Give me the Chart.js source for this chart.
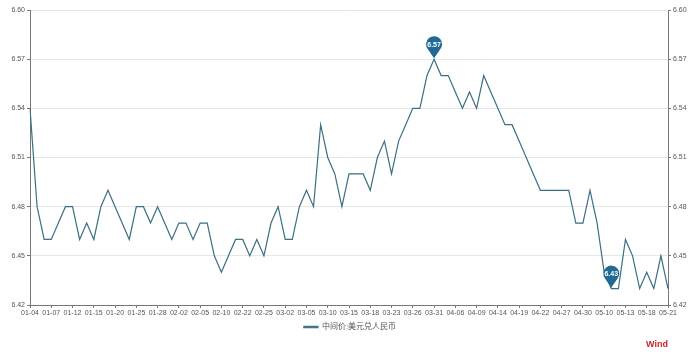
<!DOCTYPE html>
<html>
<head>
<meta charset="utf-8">
<script src="https://cdn.jsdelivr.net/npm/chart.js@4.4.1/dist/chart.umd.min.js"></script>
<style>
html,body{margin:0;padding:0;background:#fff;}
#wrap{width:700px;height:356px;position:relative;}
</style>
</head>
<body>
<div id="wrap"><canvas id="c" width="700" height="356"></canvas></div>
<script>
const dates = ["01-04","01-05","01-06","01-07","01-08","01-11","01-12","01-13","01-14","01-15","01-18","01-19","01-20","01-21","01-22","01-25","01-26","01-27","01-28","01-29",
"02-01","02-02","02-03","02-04","02-05","02-08","02-09","02-10","02-18","02-19","02-22","02-23","02-24","02-25","02-26",
"03-01","03-02","03-03","03-04","03-05","03-08","03-09","03-10","03-11","03-12","03-15","03-16","03-17","03-18","03-19","03-22","03-23","03-24","03-25","03-26","03-29","03-30","03-31",
"04-01","04-02","04-06","04-07","04-08","04-09","04-12","04-13","04-14","04-15","04-16","04-19","04-20","04-21","04-22","04-23","04-26","04-27","04-28","04-29","04-30",
"05-06","05-07","05-10","05-11","05-12","05-13","05-14","05-17","05-18","05-19","05-20","05-21"];

const rate = [6.54,6.48,6.46,6.46,6.47,6.48,6.48,6.46,6.47,6.46,6.48,6.49,6.48,6.47,6.46,6.48,6.48,6.47,6.48,6.47,
6.46,6.47,6.47,6.46,6.47,6.47,6.45,6.44,6.45,6.46,6.46,6.45,6.46,6.45,6.47,
6.48,6.46,6.46,6.48,6.49,6.48,6.53,6.51,6.50,6.48,6.50,6.50,6.50,6.49,6.51,6.52,6.50,6.52,6.53,6.54,6.54,6.56,6.57,
6.56,6.56,6.55,6.54,6.55,6.54,6.56,6.55,6.54,6.53,6.53,6.52,6.51,6.50,6.49,6.49,6.49,6.49,6.49,6.47,6.47,
6.49,6.47,6.44,6.43,6.43,6.46,6.45,6.43,6.44,6.43,6.45,6.43];

const seriesName = "中间价:美元兑人民币";
const yTicks = [6.42,6.45,6.48,6.51,6.54,6.57,6.60];

const FONT = "'Liberation Sans', Arial, 'Noto Sans CJK SC', sans-serif";
const LINE = "#3a6f84";
const PIN = "#1f6b96";

const pinPlugin = {
  id: 'pins',
  afterDatasetsDraw(chart) {
    const ctx = chart.ctx;
    const meta = chart.getDatasetMeta(0);
    const data = chart.data.datasets[0].data;
    const maxV = Math.max(...data), minV = Math.min(...data);
    const idxs = [data.indexOf(maxV), data.indexOf(minV)];
    idxs.forEach(i => {
      const p = meta.data[i];
      const x = p.x, y = p.y;
      const r = 8, cy = y - 15;
      ctx.save();
      ctx.fillStyle = PIN;
      ctx.beginPath();
      ctx.arc(x, cy, r, Math.PI * 0.78, Math.PI * 2.22, false);
      ctx.lineTo(x, y - 1);
      ctx.closePath();
      ctx.fill();
      ctx.fillStyle = "#fff";
      ctx.font = "bold 7px " + FONT;
      ctx.textAlign = "center";
      ctx.textBaseline = "middle";
      ctx.fillText(data[i].toFixed(2), x, cy + 0.5);
      ctx.restore();
    });
  },
  afterDraw(chart) {
    const ctx = chart.ctx;
    ctx.save();
    ctx.fillStyle = "#c9252b";
    ctx.font = "bold 9px " + FONT;
    ctx.textAlign = "right";
    ctx.textBaseline = "alphabetic";
    ctx.fillText("Wind", 668, 347);
    ctx.restore();
  }
};

const yCommon = {
  type: 'linear',
  min: 6.42, max: 6.60,
  afterBuildTicks(scale) { scale.ticks = yTicks.map(v => ({value: v})); },
  ticks: {
    color: '#555', font: {size: 7, family: FONT}, padding: 2,
    callback: v => Number(v).toFixed(2)
  },
  border: {display: true, color: '#777', width: 1}
};

new Chart(document.getElementById('c'), {
  type: 'line',
  data: {
    labels: dates,
    datasets: [{
      label: seriesName,
      data: rate,
      borderColor: LINE,
      backgroundColor: LINE,
      borderWidth: 1.2,
      pointRadius: 0,
      tension: 0,
      yAxisID: 'y'
    }]
  },
  options: {
    responsive: false,
    animation: false,
    devicePixelRatio: 1,
    layout: {padding: {top: 10, left: 0, right: 0, bottom: 15}},
    plugins: {
      legend: {
        display: true, position: 'bottom',
        labels: {color: '#555', font: {size: 8, family: FONT}, boxWidth: 14, boxHeight: 1.5, padding: 4}
      },
      tooltip: {enabled: false}
    },
    scales: {
      x: {
        type: 'category',
        offset: false,
        afterFit(scale) { scale.height = 14; },
        grid: {display: true, drawOnChartArea: false, drawTicks: true, tickLength: 3, tickColor: '#777'},
        border: {display: true, color: '#777', width: 1},
        ticks: {
          autoSkip: false, maxRotation: 0, minRotation: 0, padding: 1,
          color: '#555', font: {size: 7, family: FONT},
          callback: function(v, i) { return i % 3 === 0 ? this.getLabelForValue(v) : null; }
        }
      },
      y: Object.assign({}, yCommon, {
        position: 'left',
        afterFit(scale) { scale.width = 30; },
        grid: {display: true, drawOnChartArea: true, color: '#e6e6e6', drawTicks: true, tickLength: 3, tickColor: '#777'}
      }),
      y2: Object.assign({}, yCommon, {
        position: 'right',
        afterFit(scale) { scale.width = 32; },
        grid: {display: true, drawOnChartArea: false, drawTicks: true, tickLength: 3, tickColor: '#777'}
      })
    }
  },
  plugins: [pinPlugin]
});
</script>
</body>
</html>
